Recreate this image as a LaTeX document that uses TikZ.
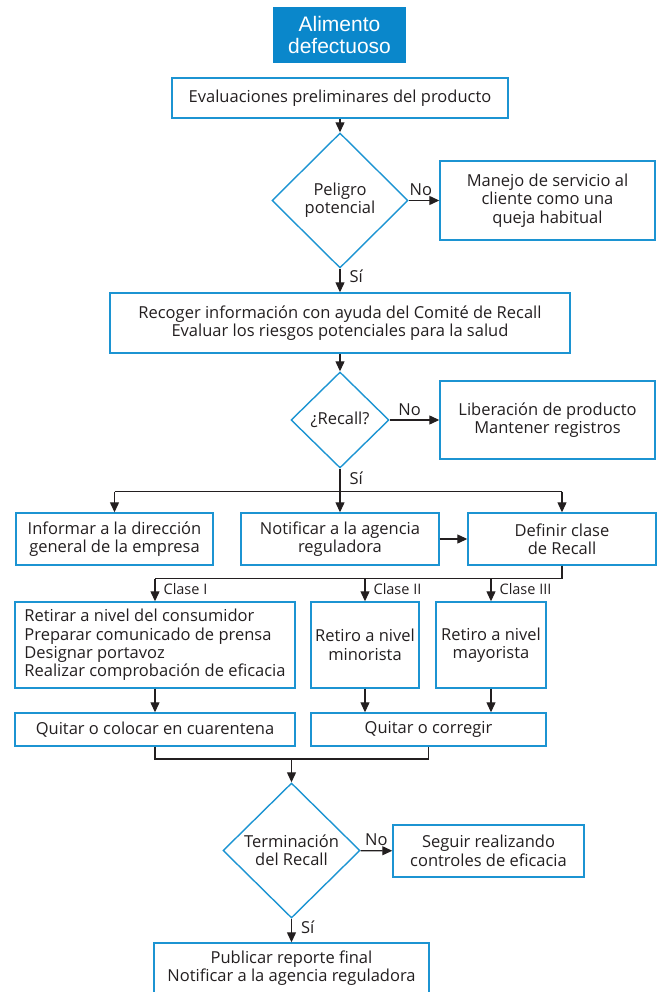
\documentclass[tikz,border=0pt]{standalone}
\usepackage{fontspec}
\setmainfont{Open Sans}
\newfontfamily\titlefont{Liberation Sans}
\usetikzlibrary{shapes.geometric,arrows.meta,calc}
\definecolor{bord}{HTML}{1C94D2}
\definecolor{tfill}{HTML}{0A87CB}
\definecolor{ink}{HTML}{231F20}
\begin{document}
\begin{tikzpicture}[x=1pt,y=-1pt,
  every node/.style={text=ink},
  box/.style={draw=bord, line width=1.4pt, rectangle, inner sep=2pt, align=center,
    font=\fontsize{16.5}{18.4}\selectfont},
  dia/.style={draw=bord, line width=1.4pt, diamond, inner sep=0pt, align=center,
    font=\fontsize{16.5}{18.4}\selectfont},
  arr/.style={draw=ink, line width=1.2pt, -{Triangle[length=10pt,width=9pt]}},
  ln/.style={draw=ink, line width=1.2pt},
  lbl/.style={font=\fontsize{16.5}{18}\selectfont, inner sep=3pt},
  sil/.style={lbl, right, xshift=6pt},
  nol/.style={lbl, above, yshift=1pt},
  clbl/.style={font=\fontsize{14.5}{16}\selectfont, inner sep=4pt, right, xshift=4pt}
]
\useasboundingbox (0,0) rectangle (656,992);
% title
\node[fill=tfill, minimum width=133pt, minimum height=56pt, align=center, text=white,
  font=\titlefont\fontsize{21}{22.5}\selectfont, inner sep=0pt] (t) at (339.5,35) {Alimento\\defectuoso};
\node[box, minimum width=336pt, minimum height=40pt] (b1) at (340,98) {Evaluaciones preliminares del producto};
\node[dia, minimum width=136pt, minimum height=135pt] (d1) at (340,200.5) {Peligro\\potencial};
\node[box, minimum width=215pt, minimum height=79pt] (b2) at (547.5,200.5) {Manejo de servicio al\\cliente como una\\queja habitual};
\node[box, minimum width=460pt, minimum height=60pt] (b3) at (340,323) {Recoger información con ayuda del Comité de Recall\\Evaluar los riesgos potenciales para la salud};
\node[dia, minimum width=98pt, minimum height=96pt] (d2) at (340,420) {¿Recall?};
\node[box, minimum width=215pt, minimum height=78pt] (b4) at (547.5,420) {Liberación de producto\\Mantener registros};
\node[box, minimum width=197pt, minimum height=52pt] (b5) at (114.5,539) {Informar a la dirección\\general de la empresa};
\node[box, minimum width=198pt, minimum height=52pt] (b6) at (340,539) {Notificar a la agencia\\reguladora};
\node[box, minimum width=188pt, minimum height=52pt] (b7) at (562,539) {Definir clase\\de Recall};
\node[box, minimum width=280pt, minimum height=86pt, align=left] (b8) at (155,645) {Retirar a nivel del consumidor\\Preparar comunicado de prensa\\Designar portavoz\\Realizar comprobación de eficacia};
\node[box, minimum width=108pt, minimum height=86pt] (b9) at (365,645) {Retiro a nivel\\minorista};
\node[box, minimum width=110pt, minimum height=86pt] (b10) at (491,645) {Retiro a nivel\\mayorista};
\node[box, minimum width=280pt, minimum height=33pt] (b11) at (155,729.5) {Quitar o colocar en cuarentena};
\node[box, minimum width=235pt, minimum height=33pt] (b12) at (428.5,729.5) {Quitar o corregir};
\node[dia, minimum width=137pt, minimum height=135pt] (d3) at (291.5,850.5) {Terminación\\del Recall};
\node[box, minimum width=191pt, minimum height=52pt] (b13) at (488.5,851) {Seguir realizando\\controles de eficacia};
\node[box, minimum width=275pt, minimum height=50pt] (b14) at (291.5,968) {Publicar reporte final\\Notificar a la agencia reguladora};
% connectors
\draw[arr] (b1) -- (d1);
\draw[arr] (d1) -- node[nol, pos=0.4] {No} (b2);
\draw[arr] (d1) -- node[sil, pos=0.3] {Sí} (b3);
\draw[arr] (b3) -- (d2);
\draw[arr] (d2) -- node[nol, pos=0.4] {No} (b4);
\path (d2.south) ++(0,23) coordinate (s1);
\draw[ln] (d2.south) -- node[sil, pos=0.4] {Sí} (s1);
\draw[ln] (b5.north |- s1) -- (b7.north |- s1);
\draw[arr] (b5.north |- s1) -- (b5.north);
\draw[arr] (s1) -- (b6.north);
\draw[arr] (b7.north |- s1) -- (b7.north);
\draw[arr] (b6) -- (b7);
\path (b7.south) ++(0,13) coordinate (s2);
\draw[ln] (b7.south) -- (s2) -- (b8.north |- s2);
\draw[arr] (b8.north |- s2) -- node[clbl, pos=0.45] {Clase I} (b8.north);
\draw[arr] (b9.north |- s2) -- node[clbl, pos=0.45] {Clase II} (b9.north);
\draw[arr] (b10.north |- s2) -- node[clbl, pos=0.45] {Clase III} (b10.north);
\draw[arr] (b8) -- (b11);
\draw[arr] (b9) -- (b9 |- b12.north);
\draw[arr] (b10) -- (b10 |- b12.north);
\coordinate (m) at (291.5,759);
\draw[ln] (b11.south) |- (m) -| (b12.south);
\draw[arr] (m) -- (d3);
\draw[arr] (d3) -- node[nol] {No} (b13);
\draw[arr] (d3) -- node[sil, pos=0.35] {Sí} (b14);
\end{tikzpicture}
\end{document}
